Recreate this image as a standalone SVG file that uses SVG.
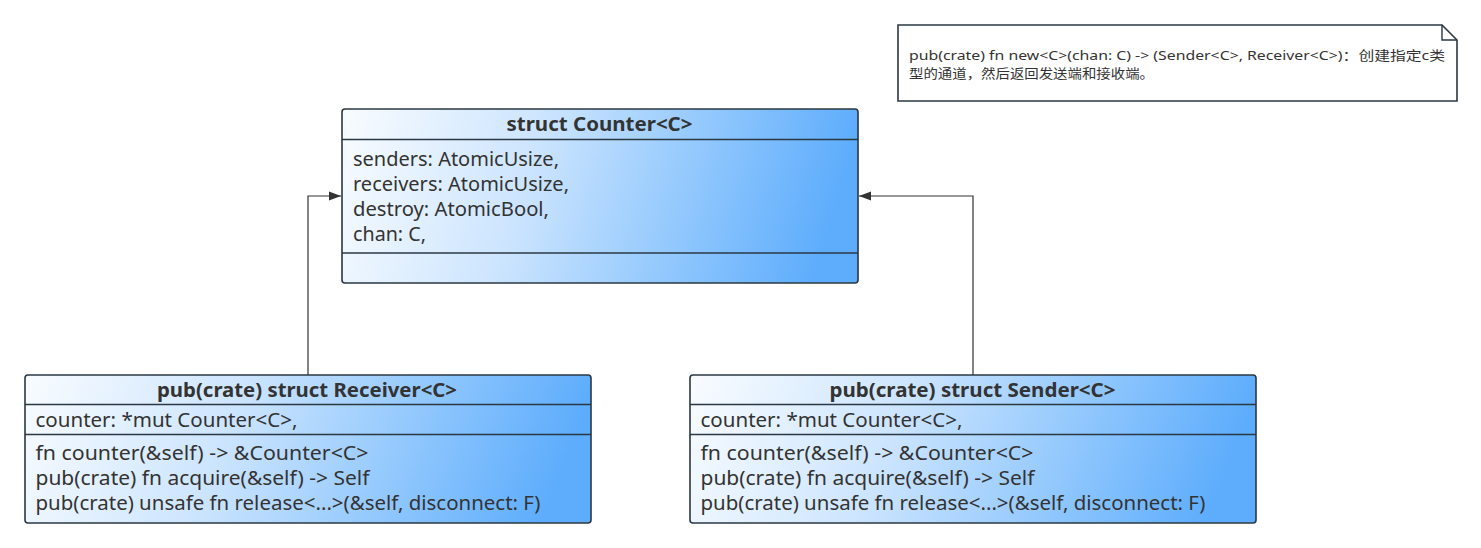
<svg xmlns="http://www.w3.org/2000/svg" width="1481" height="548" viewBox="0 0 1481 548">
<defs>
<linearGradient id="g" x1="0" y1="0" x2="1" y2="0.1">
<stop offset="0" stop-color="#f9fcff"/>
<stop offset="0.4" stop-color="#cbe4fe"/>
<stop offset="0.7" stop-color="#94c9fd"/>
<stop offset="1" stop-color="#5eadfc"/>
</linearGradient>
<marker id="arr" viewBox="0 0 12 10" refX="12" refY="5" markerWidth="12" markerHeight="10" markerUnits="userSpaceOnUse" orient="auto">
<path d="M0,0.5 L12,5 L0,9.5 z" fill="#333"/>
</marker>
<style>
.box{fill:url(#g);stroke:#2b3844;stroke-width:1.6}
.div{stroke:#2b3844;stroke-width:1.6}
.t{font-family:"Noto Sans","Open Sans","Liberation Sans",sans-serif;font-size:19px;fill:#333}
.h{font-family:"Noto Sans","Open Sans","Liberation Sans",sans-serif;font-size:19px;font-weight:bold;fill:#333}
.n{font-family:"Noto Sans","Liberation Sans","Noto Sans CJK SC",sans-serif;font-size:13px;fill:#333}
.c{fill:none;stroke:#333;stroke-width:1.2}
</style>
</defs>
<rect width="1481" height="548" fill="#fff"/>
<g id="connectors">
<path class="c" d="M308,375 V196 H341" marker-end="url(#arr)"/>
<path class="c" d="M973,375 V196 H859" marker-end="url(#arr)"/>
</g>
<g id="note">
<path d="M898,25 H1442 L1457,40 V101 H898 Z" fill="#fff" stroke="#2b3844" stroke-width="1.6"/>
<path d="M1442,25 V40 H1457" fill="none" stroke="#2b3844" stroke-width="1.4"/>
<text class="n" x="909" y="60" textLength="536" lengthAdjust="spacingAndGlyphs">pub(crate) fn new&lt;C&gt;(chan: C) -&gt; (Sender&lt;C&gt;, Receiver&lt;C&gt;)：创建指定c类</text>
<text class="n" x="909" y="78" textLength="245" lengthAdjust="spacingAndGlyphs">型的通道，然后返回发送端和接收端。</text>
</g>
<g id="counter">
<rect class="box" x="342" y="109" width="516" height="174" rx="3"/>
<line class="div" x1="342" y1="139.5" x2="858" y2="139.5"/>
<line class="div" x1="342" y1="253" x2="858" y2="253"/>
<text class="h" x="506.5" y="131" textLength="186" lengthAdjust="spacingAndGlyphs">struct Counter&lt;C&gt;</text>
<text class="t" x="353" y="166" textLength="206" lengthAdjust="spacingAndGlyphs">senders: AtomicUsize,</text>
<text class="t" x="353" y="191" textLength="216" lengthAdjust="spacingAndGlyphs">receivers: AtomicUsize,</text>
<text class="t" x="353" y="216" textLength="196" lengthAdjust="spacingAndGlyphs">destroy: AtomicBool,</text>
<text class="t" x="353" y="241" textLength="73" lengthAdjust="spacingAndGlyphs">chan: C,</text>
</g>
<g id="receiver">
<rect class="box" x="25" y="375" width="566" height="148" rx="3"/>
<line class="div" x1="25" y1="404.5" x2="591" y2="404.5"/>
<line class="div" x1="25" y1="434.5" x2="591" y2="434.5"/>
<text class="h" x="157" y="397" textLength="300" lengthAdjust="spacingAndGlyphs">pub(crate) struct Receiver&lt;C&gt;</text>
<text class="t" x="35.5" y="427" textLength="262" lengthAdjust="spacingAndGlyphs">counter: *mut Counter&lt;C&gt;,</text>
<text class="t" x="35.5" y="460" textLength="333" lengthAdjust="spacingAndGlyphs">fn counter(&amp;self) -&gt; &amp;Counter&lt;C&gt;</text>
<text class="t" x="35.5" y="485" textLength="334" lengthAdjust="spacingAndGlyphs">pub(crate) fn acquire(&amp;self) -&gt; Self</text>
<text class="t" x="35.5" y="510" textLength="505" lengthAdjust="spacingAndGlyphs">pub(crate) unsafe fn release&lt;...&gt;(&amp;self, disconnect: F)</text>
</g>
<g id="sender">
<rect class="box" x="690" y="375" width="566" height="148" rx="3"/>
<line class="div" x1="690" y1="404.5" x2="1256" y2="404.5"/>
<line class="div" x1="690" y1="434.5" x2="1256" y2="434.5"/>
<text class="h" x="829.5" y="397" textLength="286" lengthAdjust="spacingAndGlyphs">pub(crate) struct Sender&lt;C&gt;</text>
<text class="t" x="700.5" y="427" textLength="262" lengthAdjust="spacingAndGlyphs">counter: *mut Counter&lt;C&gt;,</text>
<text class="t" x="700.5" y="460" textLength="333" lengthAdjust="spacingAndGlyphs">fn counter(&amp;self) -&gt; &amp;Counter&lt;C&gt;</text>
<text class="t" x="700.5" y="485" textLength="334" lengthAdjust="spacingAndGlyphs">pub(crate) fn acquire(&amp;self) -&gt; Self</text>
<text class="t" x="700.5" y="510" textLength="505" lengthAdjust="spacingAndGlyphs">pub(crate) unsafe fn release&lt;...&gt;(&amp;self, disconnect: F)</text>
</g>
</svg>
